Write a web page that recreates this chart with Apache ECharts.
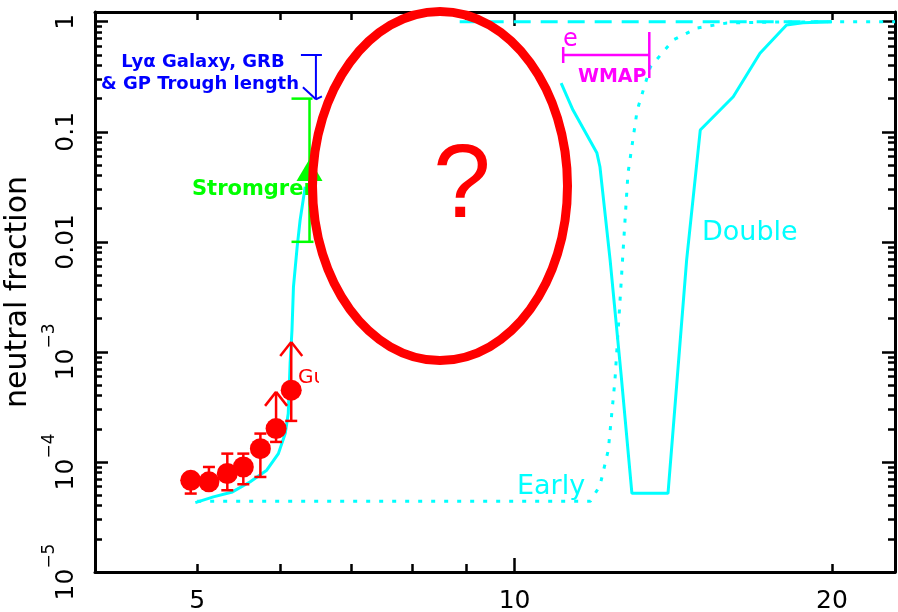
<!DOCTYPE html>
<html><head><meta charset="utf-8">
<script src="https://cdn.jsdelivr.net/npm/echarts@6/dist/echarts.min.js"></script>
<style>html,body{margin:0;padding:0;background:#fff}#c{width:898px;height:612px}</style>
</head><body><div id="c"></div>
<script>
// ---- tick values / labels ----
const xTickLabels = [5, 10, 20];
const xMajorTicks = [10];
const xMinorTicks = [5, 6, 7, 8, 9, 20];
const yTickLabels = [1e-5, 1e-4, 1e-3, 0.01, 0.1, 1];
const yMinorTicks = [];
for (let d = -5; d < 0; d++) for (let k = 2; k <= 9; k++) yMinorTicks.push(+(k * Math.pow(10, d)).toPrecision(3));

// ---- model curves (redshift z, neutral fraction f) ----
const lateZ = [4.98, 5.18, 5.40, 5.61, 5.82, 5.97, 6.06, 6.10, 6.125, 6.15, 6.17, 6.22, 6.26, 6.33];
const lateF = [4.27e-5, 4.81e-5, 5.34e-5, 6.58e-5, 8.41e-5, 1.19e-4, 1.81e-4, 2.75e-4, 7.85e-4, 1.57e-3, 3.9e-3, 9.0e-3, 0.0157, 0.0316];

const doubleZ = [11.07, 11.36, 11.97, 12.05, 12.32, 12.62, 12.92, 13.98, 14.11, 14.56, 15.0, 16.12, 17.09, 18.11, 18.77, 20];
const doubleF = [0.2765, 0.1575, 0.064, 0.0478, 0.00682, 6.14e-4, 5.19e-5, 5.19e-5, 1.57e-4, 6.82e-3, 0.1036, 0.208, 0.516, 0.933, 0.98, 1.0];

const earlyZ = [5.0, 11.8, 12.05, 12.27, 12.45, 12.59, 12.67, 12.81, 13.07, 13.45, 14.14, 14.9, 15.9, 18, 22.95];
const earlyF = [4.4e-5, 4.4e-5, 6.1e-5, 1.28e-4, 5.5e-4, 2.95e-3, 7.9e-3, 0.042, 0.157, 0.387, 0.682, 0.877, 0.973, 0.995, 1.0];

const lateHighZ = [8.87, 20];
const lateHighF = [1.0, 1.0];

// ---- Gunn-Peterson measurements ----
const gpZ = [4.93, 5.13, 5.34, 5.53, 5.74, 5.94, 6.14];
const gpF = [6.8e-5, 6.6e-5, 7.85e-5, 9.0e-5, 1.32e-4, 2.01e-4, 4.49e-4];
const gpLow = [5.16e-5, 5.7e-5, 5.53e-5, 6.27e-5, 7.3e-5, 1.52e-4, 2.36e-4];
const gpHigh = [7.9e-5, 9.0e-5, 1.19e-4, 1.19e-4, 1.81e-4, null, null];
const gpLowerLimitTip = [null, null, null, null, null, 4.33e-4, 1.23e-3];

// ---- Stromgren sphere constraint ----
const stromZ = [6.39];
const stromF = [0.0449];
const stromLow = [0.01];
const stromHigh = [0.2];

// ---- Ly-alpha galaxy / GRB / trough upper limit ----
const lyaZ = [6.48];
const lyaTop = [0.498];
const lyaTip = [0.197];

// ---- WMAP range ----
const wmapZ = [11.12, 13.42];
const wmapF = [0.498];

const FONT = '"DejaVu Sans", sans-serif';
const CYAN = '#00ffff';

function pairs(xs, ys) { return xs.map((x, i) => [x, ys[i]]); }

function seg(a, b, style) {
  return { type: 'line', shape: { x1: a[0], y1: a[1], x2: b[0], y2: b[1] }, style: style };
}

function gpRender(params, api) {
  const i = params.dataIndex;
  const st = { stroke: '#ff0000', lineWidth: 2.5 };
  const c = api.coord([gpZ[i], gpF[i]]);
  const ch = [];
  const lo = api.coord([gpZ[i], gpLow[i]]);
  ch.push(seg(c, lo, st));
  ch.push(seg([lo[0] - 6, lo[1]], [lo[0] + 6, lo[1]], st));
  if (gpHigh[i] != null) {
    const hi = api.coord([gpZ[i], gpHigh[i]]);
    ch.push(seg(c, hi, st));
    ch.push(seg([hi[0] - 6, hi[1]], [hi[0] + 6, hi[1]], st));
  }
  if (gpLowerLimitTip[i] != null) {
    const t = api.coord([gpZ[i], gpLowerLimitTip[i]]);
    ch.push(seg(c, t, st));
    ch.push(seg([t[0] - 11, t[1] + 14], t, st));
    ch.push(seg([t[0] + 11, t[1] + 14], t, st));
  }
  return { type: 'group', children: ch };
}

function stromRender(params, api) {
  const i = params.dataIndex;
  const st = { stroke: '#00ff00', lineWidth: 2.5 };
  const lo = api.coord([stromZ[i], stromLow[i]]);
  const hi = api.coord([stromZ[i], stromHigh[i]]);
  return { type: 'group', children: [
    seg(lo, hi, st),
    seg([lo[0] - 18, lo[1]], [lo[0] + 4, lo[1]], st),
    seg([hi[0] - 18, hi[1]], [hi[0] + 3, hi[1]], st)
  ] };
}

function lyaRender(params, api) {
  const i = params.dataIndex;
  const st = { stroke: '#0000ff', lineWidth: 2 };
  const top = api.coord([lyaZ[i], lyaTop[i]]);
  const tip = api.coord([lyaZ[i], lyaTip[i]]);
  return { type: 'group', children: [
    seg(top, tip, st),
    seg([top[0] - 15, top[1]], [top[0] + 6, top[1]], st),
    seg([tip[0] - 13, tip[1] - 12], tip, st),
    seg([tip[0] + 6, tip[1] - 3], tip, st)
  ] };
}

function wmapRender(params, api) {
  const st = { stroke: '#ff00ff', lineWidth: 2.5 };
  const a = api.coord([wmapZ[0], wmapF[0]]);
  const b = api.coord([wmapZ[1], wmapF[0]]);
  return { type: 'group', children: [
    seg(a, b, st),
    seg([a[0], a[1] - 8], [a[0], a[1] + 8], st),
    seg([b[0], b[1] - 23], [b[0], b[1] + 23], st)
  ] };
}

const axisLineStyle = { color: '#000', width: 3 };

function xAxisDef(pos, major, showLabel) {
  return {
    type: 'log', logBase: 10, min: 4.0, max: 22.95, position: pos,
    axisLine: { show: major, onZero: false, lineStyle: axisLineStyle },
    axisTick: { show: true, inside: true, length: major ? 14 : 8, customValues: major ? xMajorTicks : xMinorTicks,
      lineStyle: { color: '#000', width: 2.5 } },
    axisLabel: { show: showLabel, customValues: xTickLabels, margin: 17, color: '#000',
      fontFamily: FONT, fontSize: 25, formatter: v => String(Math.round(v)) },
    splitLine: { show: false }, minorTick: { show: false }
  };
}

function yLabel(v) {
  const e = Math.round(Math.log10(v));
  if (e >= -2) return '{b|' + (e === 0 ? '1' : e === -1 ? '0.1' : '0.01') + '}';
  return '{b|10}{s|\u2212' + (-e) + '}';
}

function yAxisDef(pos, major, showLabel) {
  return {
    type: 'log', logBase: 10, min: 1e-5, max: 1.225, position: pos,
    name: showLabel ? 'neutral fraction' : '', nameLocation: 'middle', nameRotate: 90, nameGap: 58,
    nameTextStyle: { fontFamily: FONT, fontSize: 30, color: '#000' },
    axisLine: { show: major, onZero: false, lineStyle: axisLineStyle },
    axisTick: { show: true, inside: true, length: major ? 13 : 7, customValues: major ? yTickLabels : yMinorTicks,
      lineStyle: { color: '#000', width: 2.5 } },
    axisLabel: { show: showLabel, customValues: yTickLabels, rotate: 90, margin: 16, color: '#000',
      formatter: yLabel,
      rich: {
        b: { fontFamily: FONT, fontSize: 25, color: '#000', verticalAlign: 'bottom', padding: [13, 0, 0, 0] },
        s: { fontFamily: FONT, fontSize: 17, color: '#000', verticalAlign: 'top' }
      } },
    splitLine: { show: false }, minorTick: { show: false }
  };
}

function txt(x, y, text, size, color, extra) {
  return Object.assign({ type: 'text', x: x, y: y, z: 50,
    style: Object.assign({ text: text, fontFamily: FONT, fontSize: size, fill: color, align: 'left', verticalAlign: 'middle' }, extra || {}) });
}

const chart = echarts.init(document.getElementById('c'), null, { renderer: 'canvas' });
chart.setOption({
  animation: false,
  backgroundColor: '#fff',
  grid: { left: 95, right: 3, top: 12, bottom: 40, containLabel: false, outerBoundsMode: 'none' },
  xAxis: [xAxisDef('bottom', true, true), xAxisDef('bottom', false, false), xAxisDef('top', true, false), xAxisDef('top', false, false)],
  yAxis: [yAxisDef('left', true, true), yAxisDef('left', false, false), yAxisDef('right', true, false), yAxisDef('right', false, false)],
  series: [
    { type: 'line', name: 'Early', data: pairs(earlyZ, earlyF), showSymbol: false, symbol: 'none',
      lineStyle: { color: CYAN, width: 3, type: [4, 9] }, z: 3 },
    { type: 'line', name: 'Late', data: pairs(lateHighZ, lateHighF), showSymbol: false, symbol: 'none',
      lineStyle: { color: CYAN, width: 3, type: [17, 10] }, z: 3 },
    { type: 'line', name: 'Late low', data: pairs(lateZ, lateF), showSymbol: false, symbol: 'none',
      lineStyle: { color: CYAN, width: 3 }, z: 3 },
    { type: 'line', name: 'Double', data: pairs(doubleZ, doubleF), showSymbol: false, symbol: 'none',
      lineStyle: { color: CYAN, width: 3 }, z: 3 },
    { type: 'custom', name: 'GP err', data: pairs(gpZ, gpF), renderItem: gpRender, z: 4 },
    { type: 'scatter', name: 'Gunn-Peterson', data: pairs(gpZ, gpF), symbol: 'circle', symbolSize: 21,
      itemStyle: { color: '#ff0000', opacity: 1 }, z: 5 },
    { type: 'custom', name: 'Stromgren err', data: pairs(stromZ, stromF), renderItem: stromRender, z: 4 },
    { type: 'scatter', name: 'Stromgren', data: pairs(stromZ, stromF), symbol: 'triangle', symbolSize: [26, 22],
      itemStyle: { color: '#00ff00', opacity: 1 }, z: 5 },
    { type: 'custom', name: 'Lya limit', data: pairs(lyaZ, lyaTop), renderItem: lyaRender, z: 4 },
    { type: 'custom', name: 'WMAP', data: [[wmapZ[0], wmapF[0]]], renderItem: wmapRender, z: 4 }
  ],
  graphic: [
    txt(203, 62, 'Ly\u03b1 Galaxy, GRB', 18, '#0000ff', { align: 'center', fontWeight: 'bold' }),
    txt(200, 84, '& GP Trough length', 18, '#0000ff', { align: 'center', fontWeight: 'bold' }),
    txt(192, 190, 'Stromgren', 21, '#00ff00', { fontWeight: 'bold' }),
    txt(298, 378, 'Gu', 20, '#ff0000'),
    txt(517, 487, 'Early', 27, CYAN),
    txt(702, 233, 'Double', 27, CYAN),
    txt(578, 77, 'WMAP', 19, '#ff00ff', { fontWeight: 'bold' }),
    txt(563, 40, 'e', 24, '#ff00ff'),
    { type: 'rect', z: 60, shape: { x: 319, y: 364, width: 26, height: 30 }, style: { fill: '#fff' } },
    { type: 'ellipse', z: 100, shape: { cx: 440, cy: 186, rx: 127.5, ry: 174.5 },
      style: { fill: null, stroke: '#ff0000', lineWidth: 9 } },
    { type: 'text', z: 101, x: 462, y: 188,
      style: { text: '?', fontFamily: '"Liberation Sans", Arial, sans-serif', fontSize: 104, fill: '#ff0000', align: 'center', verticalAlign: 'middle' } }
  ]
});
</script></body></html>
